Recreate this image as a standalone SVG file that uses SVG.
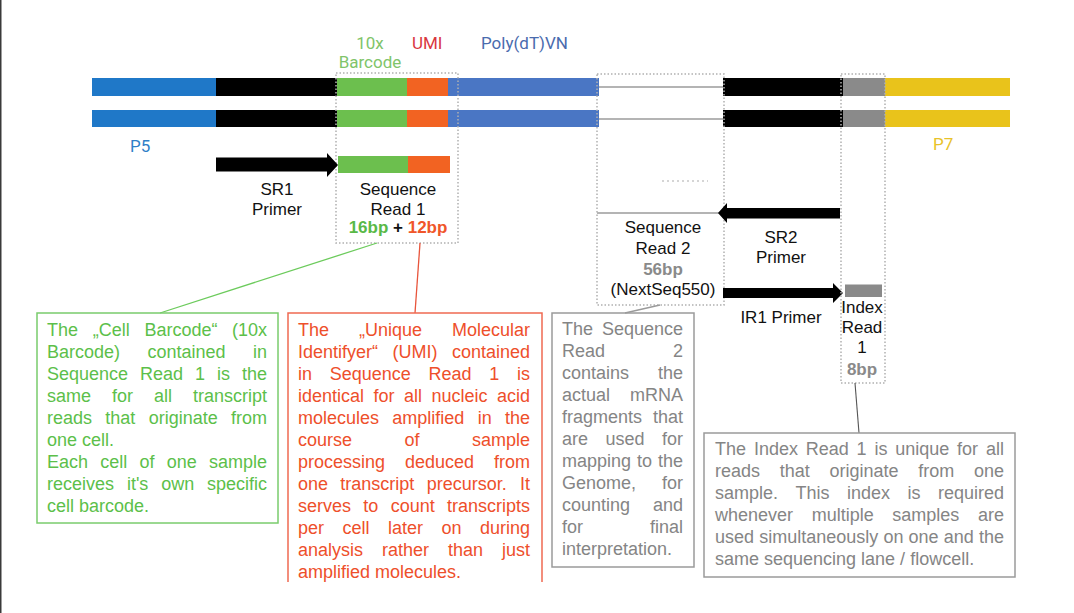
<svg xmlns="http://www.w3.org/2000/svg" width="1074" height="613" viewBox="0 0 1074 613">
<style>
.hdr{font-family:Roboto,"Liberation Sans",sans-serif;font-size:17px}
.lb{font-family:"Liberation Sans",Arial,sans-serif;font-size:17px;fill:#111;text-anchor:middle}
.bd{font-weight:bold}
.gy{fill:#8a8a8a}
.tx{font-family:"Liberation Sans",Arial,sans-serif;font-size:18px}
.g{fill:#5cbf4a}
.r{fill:#ee4f2b}
.k{fill:#858585}
.e{text-anchor:end}
.dot{fill:none;stroke:#b0b0b0;stroke-width:1.5;stroke-dasharray:1.5 2}
</style>
<rect width="1074" height="613" fill="#fff"/>
<rect x="0" y="0" width="1.5" height="613" fill="#3a3a3a"/>

<g id="strands">
  <g id="strand-top">
    <rect x="92" y="78" width="124" height="18" fill="#1f78c8"/>
    <rect x="216" y="78" width="121" height="18" fill="#000"/>
    <rect x="337" y="78" width="70" height="18" fill="#6cbf4e"/>
    <rect x="407" y="78" width="41" height="18" fill="#f26322"/>
    <rect x="448" y="78" width="151" height="18" fill="#4a76c4"/>
    <line x1="599" y1="87" x2="723" y2="87" stroke="#b4b4b4" stroke-width="2"/>
    <rect x="723" y="78" width="120" height="18" fill="#000"/>
    <rect x="843" y="78" width="42" height="18" fill="#8a8a8a"/>
    <rect x="885" y="78" width="125" height="18" fill="#e9c31b"/>
  </g>
  <g id="strand-bottom">
    <rect x="92" y="110" width="124" height="17" fill="#1f78c8"/>
    <rect x="216" y="110" width="121" height="17" fill="#000"/>
    <rect x="337" y="110" width="70" height="17" fill="#6cbf4e"/>
    <rect x="407" y="110" width="41" height="17" fill="#f26322"/>
    <rect x="448" y="110" width="151" height="17" fill="#4a76c4"/>
    <line x1="599" y1="119" x2="723" y2="119" stroke="#b4b4b4" stroke-width="2"/>
    <rect x="723" y="110" width="120" height="17" fill="#000"/>
    <rect x="843" y="110" width="42" height="17" fill="#8a8a8a"/>
    <rect x="885" y="110" width="125" height="17" fill="#e9c31b"/>
  </g>
</g>

<g id="header-labels">
  <text class="hdr" x="370" y="49" text-anchor="middle" fill="#80c46a">10x</text>
  <text class="hdr" x="370" y="68" text-anchor="middle" fill="#80c46a">Barcode</text>
  <text class="hdr" x="412" y="49" fill="#d9373f">UMI</text>
  <text class="hdr" x="481" y="49" fill="#4a6bae">Poly(dT)VN</text>
  <text class="hdr" x="130" y="152" fill="#2f7fc8">P5</text>
  <text class="hdr" x="933" y="150" fill="#e8c22a">P7</text>
</g>

<g id="seq-read-1">
  <rect class="dot" x="336" y="73" width="122" height="170"/>
  <rect x="338" y="156" width="70" height="17" fill="#6cbf4e"/>
  <rect x="408" y="156" width="42" height="17" fill="#f26322"/>
  <text class="lb" x="398" y="195">Sequence</text>
  <text class="lb" x="398" y="215">Read 1</text>
  <text class="lb bd" x="398" y="233"><tspan style="fill:#59b947">16bp</tspan><tspan> + </tspan><tspan style="fill:#f0562a">12bp</tspan></text>
</g>

<g id="sr1-primer">
  <polygon points="216,157.5 327,157.5 327,153 338,165 327,177 327,171.5 216,171.5" fill="#000"/>
  <text class="lb" x="277" y="195">SR1</text>
  <text class="lb" x="277" y="215">Primer</text>
</g>

<g id="seq-read-2">
  <rect class="dot" x="597" y="74" width="127" height="231"/>
  <line x1="662" y1="181" x2="708" y2="181" stroke="#c8c8c8" stroke-width="1.5" stroke-dasharray="2 3"/>
  <line x1="597" y1="213" x2="720" y2="213" stroke="#b4b4b4" stroke-width="2"/>
  <text class="lb" x="663" y="233">Sequence</text>
  <text class="lb" x="663" y="254">Read 2</text>
  <text class="lb bd gy" x="663" y="275">56bp</text>
  <text class="lb" x="663" y="295">(NextSeq550)</text>
</g>

<g id="sr2-primer">
  <polygon points="840,208 727,208 727,203 718,213 727,223 727,218.5 840,218.5" fill="#000"/>
  <text class="lb" x="781" y="243">SR2</text>
  <text class="lb" x="781" y="263">Primer</text>
</g>

<g id="ir1-primer">
  <polygon points="723,288 833,288 833,283 843,293 833,303 833,298 723,298" fill="#000"/>
  <text class="lb" x="781" y="323">IR1 Primer</text>
</g>

<g id="index-read-1">
  <rect class="dot" x="841" y="74" width="44" height="309"/>
  <rect x="845" y="284.5" width="37" height="12.5" fill="#8a8a8a"/>
  <text class="lb" x="862" y="313">Index</text>
  <text class="lb" x="862" y="333">Read</text>
  <text class="lb" x="862" y="353">1</text>
  <text class="lb bd gy" x="862" y="375">8bp</text>
</g>

<g id="connectors">
  <line x1="377" y1="243" x2="160" y2="313" stroke="#6ccb5c" stroke-width="1.3"/>
  <line x1="420" y1="243" x2="415" y2="313" stroke="#e8553c" stroke-width="1.3"/>
  <line x1="660" y1="305" x2="625" y2="313" stroke="#9a9a9a" stroke-width="1.3"/>
  <line x1="855" y1="383" x2="859" y2="433" stroke="#555" stroke-width="1.1"/>
</g>

<g id="box-barcode">
  <rect x="37" y="313" width="241" height="210" fill="none" stroke="#7acc6c" stroke-width="1.5"/>
  <g class="tx g">
    <text y="336"><tspan x="47">The</tspan><tspan x="92.7">„Cell</tspan><tspan x="144.4">Barcode“</tspan></text>
    <text class="e" x="267" y="336">(10x</text>
    <text y="358"><tspan x="47">Barcode)</tspan><tspan x="147.5">contained</tspan></text>
    <text class="e" x="267" y="358">in</text>
    <text y="380"><tspan x="47">Sequence</tspan><tspan x="140.1">Read</tspan><tspan x="195.1">1</tspan><tspan x="217.1">is</tspan></text>
    <text class="e" x="267" y="380">the</text>
    <text y="402"><tspan x="47">same</tspan><tspan x="112">for</tspan><tspan x="154">all</tspan></text>
    <text class="e" x="267" y="402">transcript</text>
    <text y="424"><tspan x="47">reads</tspan><tspan x="105.3">that</tspan><tspan x="148.7">originate</tspan></text>
    <text class="e" x="267" y="424">from</text>
    <text x="47" y="446">one cell.</text>
    <text y="468"><tspan x="47">Each</tspan><tspan x="100.3">cell</tspan><tspan x="139.5">of</tspan><tspan x="166.8">one</tspan></text>
    <text class="e" x="267" y="468">sample</text>
    <text y="490"><tspan x="47">receives</tspan><tspan x="126.9">it's</tspan><tspan x="161.2">own</tspan></text>
    <text class="e" x="267" y="490">specific</text>
    <text x="47" y="512">cell barcode.</text>
  </g>
</g>

<g id="box-umi">
  <polyline points="288,582 288,313 542,313 542,582" fill="none" stroke="#ef6a52" stroke-width="1.5"/>
  <g class="tx r">
    <text y="336"><tspan x="298">The</tspan><tspan x="359">„Unique</tspan></text>
    <text class="e" x="530" y="336">Molecular</text>
    <text y="358"><tspan x="298">Identifyer“</tspan><tspan x="392.5">(UMI)</tspan></text>
    <text class="e" x="530" y="358">contained</text>
    <text y="380"><tspan x="298">in</tspan><tspan x="329.7">Sequence</tspan><tspan x="428.5">Read</tspan><tspan x="489.2">1</tspan></text>
    <text class="e" x="530" y="380">is</text>
    <text y="402"><tspan x="298">identical</tspan><tspan x="373.5">for</tspan><tspan x="404">all</tspan><tspan x="431.5">nucleic</tspan></text>
    <text class="e" x="530" y="402">acid</text>
    <text y="424"><tspan x="298">molecules</tspan><tspan x="392.3">amplified</tspan><tspan x="477.7">in</tspan></text>
    <text class="e" x="530" y="424">the</text>
    <text y="446"><tspan x="298">course</tspan><tspan x="404.5">of</tspan></text>
    <text class="e" x="530" y="446">sample</text>
    <text y="468"><tspan x="298">processing</tspan><tspan x="405">deduced</tspan></text>
    <text class="e" x="530" y="468">from</text>
    <text y="490"><tspan x="298">one</tspan><tspan x="340.3">transcript</tspan><tspan x="426.7">precursor.</tspan></text>
    <text class="e" x="530" y="490">It</text>
    <text y="512"><tspan x="298">serves</tspan><tspan x="363.3">to</tspan><tspan x="390.7">count</tspan></text>
    <text class="e" x="530" y="512">transcripts</text>
    <text y="534"><tspan x="298">per</tspan><tspan x="342.5">cell</tspan><tspan x="388">later</tspan><tspan x="441.5">on</tspan></text>
    <text class="e" x="530" y="534">during</text>
    <text y="556"><tspan x="298">analysis</tspan><tspan x="382">rather</tspan><tspan x="448">than</tspan></text>
    <text class="e" x="530" y="556">just</text>
    <text x="298" y="578">amplified molecules.</text>
  </g>
</g>

<g id="box-read2">
  <rect x="552" y="313" width="142" height="254" fill="none" stroke="#9a9a9a" stroke-width="1.5"/>
  <g class="tx k">
    <text x="562" y="335">The</text><text class="e" x="683" y="335">Sequence</text>
    <text x="562" y="357">Read</text><text class="e" x="683" y="357">2</text>
    <text x="562" y="379">contains</text><text class="e" x="683" y="379">the</text>
    <text x="562" y="401">actual</text><text class="e" x="683" y="401">mRNA</text>
    <text x="562" y="423">fragments</text><text class="e" x="683" y="423">that</text>
    <text y="445"><tspan x="562">are</tspan><tspan x="605.5">used</tspan></text><text class="e" x="683" y="445">for</text>
    <text y="467"><tspan x="562">mapping</tspan><tspan x="637">to</tspan></text><text class="e" x="683" y="467">the</text>
    <text x="562" y="489">Genome,</text><text class="e" x="683" y="489">for</text>
    <text x="562" y="511">counting</text><text class="e" x="683" y="511">and</text>
    <text x="562" y="533">for</text><text class="e" x="683" y="533">final</text>
    <text x="562" y="555">interpretation.</text>
  </g>
</g>

<g id="box-index">
  <rect x="704" y="433" width="311" height="144" fill="none" stroke="#9a9a9a" stroke-width="1.5"/>
  <g class="tx k">
    <text y="455"><tspan x="715">The</tspan><tspan x="753.9">Index</tspan><tspan x="805.7">Read</tspan><tspan x="856.6">1</tspan><tspan x="874.4">is</tspan><tspan x="895.3">unique</tspan><tspan x="957.1">for</tspan></text>
    <text class="e" x="1004" y="455">all</text>
    <text y="477"><tspan x="715">reads</tspan><tspan x="779.8">that</tspan><tspan x="829.5">originate</tspan><tspan x="918.3">from</tspan></text>
    <text class="e" x="1004" y="477">one</text>
    <text y="499"><tspan x="715">sample.</tspan><tspan x="795.5">This</tspan><tspan x="847">index</tspan><tspan x="907.5">is</tspan></text>
    <text class="e" x="1004" y="499">required</text>
    <text y="521"><tspan x="715">whenever</tspan><tspan x="811.7">multiple</tspan><tspan x="892.3">samples</tspan></text>
    <text class="e" x="1004" y="521">are</text>
    <text y="543"><tspan x="715">used</tspan><tspan x="759.2">simultaneously</tspan><tspan x="883.4">on</tspan><tspan x="908.6">one</tspan><tspan x="943.8">and</tspan></text>
    <text class="e" x="1004" y="543">the</text>
    <text x="715" y="565">same sequencing lane / flowcell.</text>
  </g>
</g>
</svg>
